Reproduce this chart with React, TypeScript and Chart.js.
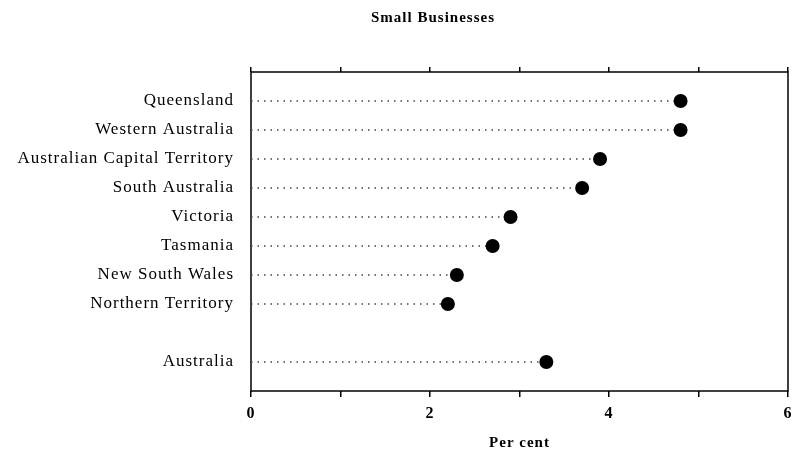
import React, { useEffect, useRef } from 'react';
import { Chart, registerables } from 'chart.js';

Chart.register(...registerables);

const chartTitle = 'Small Businesses';
const axisTitle = 'Per cent';
const stateNames = [
  'Queensland',
  'Western Australia',
  'Australian Capital Territory',
  'South Australia',
  'Victoria',
  'Tasmania',
  'New South Wales',
  'Northern Territory',
];
const stateValues = [4.8, 4.8, 3.9, 3.7, 2.9, 2.7, 2.3, 2.2];
const totalName = 'Australia';
const totalValue = 3.3;
const xMin = 0;
const xMax = 6;
const xLabelledTicks = [0, 2, 4, 6];

const rowLabels = ['', ...stateNames, '', totalName, ''];
const rowNames = [...stateNames, totalName];
const rowValues = [...stateValues, totalValue];

const SERIF = '"Liberation Serif", "Times New Roman", serif';

const framePlugin = {
  id: 'frameAndTitle',
  beforeDraw(chart: any) {
    const ctx = chart.ctx;
    ctx.letterSpacing = '1px';
  },
  beforeDatasetsDraw(chart: any) {
    const { ctx, chartArea } = chart;
    ctx.save();
    ctx.strokeStyle = '#000';
    ctx.lineWidth = 1.5;
    ctx.strokeRect(chartArea.left, chartArea.top, chartArea.right - chartArea.left, chartArea.bottom - chartArea.top);
    ctx.restore();
  },
  afterDraw(chart: any) {
    const ctx = chart.ctx;
    ctx.save();
    ctx.letterSpacing = '1px';
    ctx.font = `bold 15px ${SERIF}`;
    ctx.fillStyle = '#000';
    ctx.textAlign = 'center';
    ctx.textBaseline = 'middle';
    ctx.fillText(chartTitle, 433, 18);
    ctx.restore();
  },
};

export default function App() {
  const ref = useRef<HTMLCanvasElement>(null);
  useEffect(() => {
    if (!ref.current) return;
    const datasets = rowNames.map((name, i) => ({
      type: 'line' as const,
      data: [
        { x: xMin, y: name },
        { x: rowValues[i], y: name },
      ],
      borderColor: '#444',
      borderWidth: 1.5,
      borderDash: [1.5, 5],
      pointRadius: (c: any) => (c.dataIndex === 1 ? 7 : 0),
      pointBackgroundColor: '#000',
      pointBorderColor: '#000',
      pointBorderWidth: 0,
      xAxisID: 'x',
      yAxisID: 'y',
    }));
    const chart = new Chart(ref.current, {
      type: 'line',
      data: { datasets },
      options: {
        animation: false,
        responsive: false,
        events: [],
        layout: { autoPadding: false, padding: { top: 64, left: 0, right: 6, bottom: 0 } },
        plugins: { legend: { display: false }, tooltip: { enabled: false }, title: { display: false } },
        scales: {
          x: {
            type: 'linear',
            position: 'bottom',
            min: xMin,
            max: xMax,
            afterFit: (s: any) => { s.height = 70; s.paddingLeft = 0; s.paddingRight = 0; },
            ticks: {
              stepSize: 1,
              autoSkip: false,
              maxRotation: 0,
              color: '#000',
              padding: 7,
              font: { family: SERIF, size: 16, weight: 'bold' },
              callback: (v: any) => (xLabelledTicks.includes(Number(v)) ? String(v) : ''),
            },
            grid: { drawOnChartArea: false, tickLength: 6, color: '#000', lineWidth: 1.5 },
            border: { display: false },
            title: {
              display: true,
              text: axisTitle,
              color: '#000',
              font: { family: SERIF, size: 15, weight: 'bold' },
              padding: { top: 0, bottom: 9 },
            },
          },
          xTop: {
            type: 'linear',
            position: 'top',
            min: xMin,
            max: xMax,
            afterFit: (s: any) => { s.height = 8; s.paddingLeft = 0; s.paddingRight = 0; },
            ticks: { stepSize: 1, display: false },
            grid: { drawOnChartArea: false, tickLength: 5, color: '#000', lineWidth: 1.5 },
            border: { display: false },
          },
          y: {
            type: 'category',
            labels: rowLabels,
            offset: false,
            position: 'left',
            afterFit: (s: any) => { s.width = 251; s.paddingTop = 0; s.paddingBottom = 0; },
            ticks: {
              autoSkip: false,
              color: '#000',
              padding: 9,
              font: { family: SERIF, size: 17 },
            },
            grid: { display: false },
            border: { display: false },
          },
        },
      } as any,
      plugins: [framePlugin],
    });
    return () => chart.destroy();
  }, []);
  return (
    <div style={{ position: 'fixed', left: 0, top: 0, width: 794, height: 461, background: '#fff' }}>
      <canvas ref={ref} width={794} height={461} style={{ display: 'block' }} />
    </div>
  );
}
